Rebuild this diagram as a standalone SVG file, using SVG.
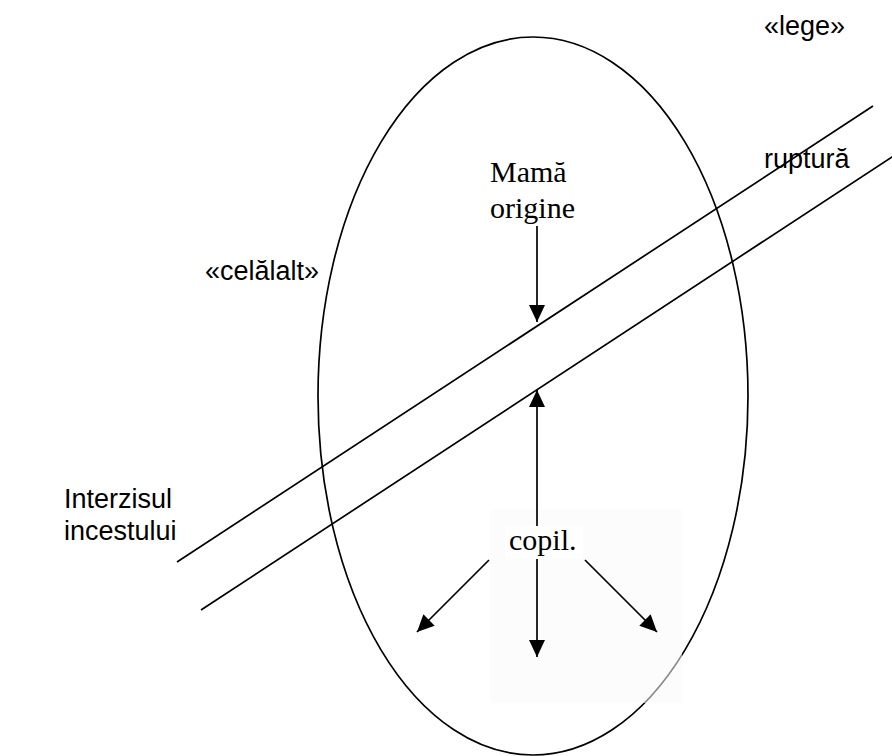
<svg xmlns="http://www.w3.org/2000/svg" width="892" height="756" viewBox="0 0 892 756">
<style>
.ln{fill:none;stroke:#000;stroke-width:1.7}
.sans{font-family:"Liberation Sans",Arial,sans-serif;font-size:27px;fill:#000}
.serif{font-family:"Liberation Serif","Times New Roman",serif;font-size:30px;fill:#000}
</style>
<defs>
<marker id="ah" markerUnits="userSpaceOnUse" markerWidth="18" markerHeight="16" viewBox="0 0 18 16" refX="17" refY="8" orient="auto-start-reverse">
<path d="M0,0 L17,8 L0,16 Z" fill="#000"/>
</marker>
</defs>
<rect width="892" height="756" fill="#fff"/>
<g id="familie">
<ellipse class="ln" cx="533" cy="396" rx="215" ry="359"/>
</g>
<g id="interdictie">
<line class="ln" x1="177" y1="562" x2="873" y2="106"/>
<line class="ln" x1="201" y1="610" x2="895" y2="155"/>
</g>
<rect id="fond-copil" x="490" y="510" width="192" height="193" fill="#fafafa" fill-opacity="0.55"/>
<g id="connectors">
<line class="ln" x1="537" y1="226" x2="537" y2="322" marker-end="url(#ah)"/>
<line class="ln" x1="537" y1="390" x2="537" y2="657" marker-start="url(#ah)" marker-end="url(#ah)"/>
<line class="ln" x1="489" y1="560" x2="417" y2="632" marker-end="url(#ah)"/>
<line class="ln" x1="585" y1="560" x2="657" y2="632" marker-end="url(#ah)"/>
</g>
<g id="lege"><text class="sans" x="764" y="35">«lege»</text></g>
<g id="ruptura"><text class="sans" x="764" y="168">ruptură</text></g>
<g id="celalalt"><text class="sans" x="205" y="280">«celălalt»</text></g>
<g id="interzisul"><text class="sans" x="64" y="508">Interzisul</text><text class="sans" x="64" y="540">incestului</text></g>
<g id="mama"><text class="serif" x="490" y="182">Mamă</text><text class="serif" x="490" y="218">origine</text></g>
<g id="copil"><rect x="505" y="526" width="78" height="33" fill="#fff"/><text class="serif" x="509" y="550">copil.</text></g>
</svg>
